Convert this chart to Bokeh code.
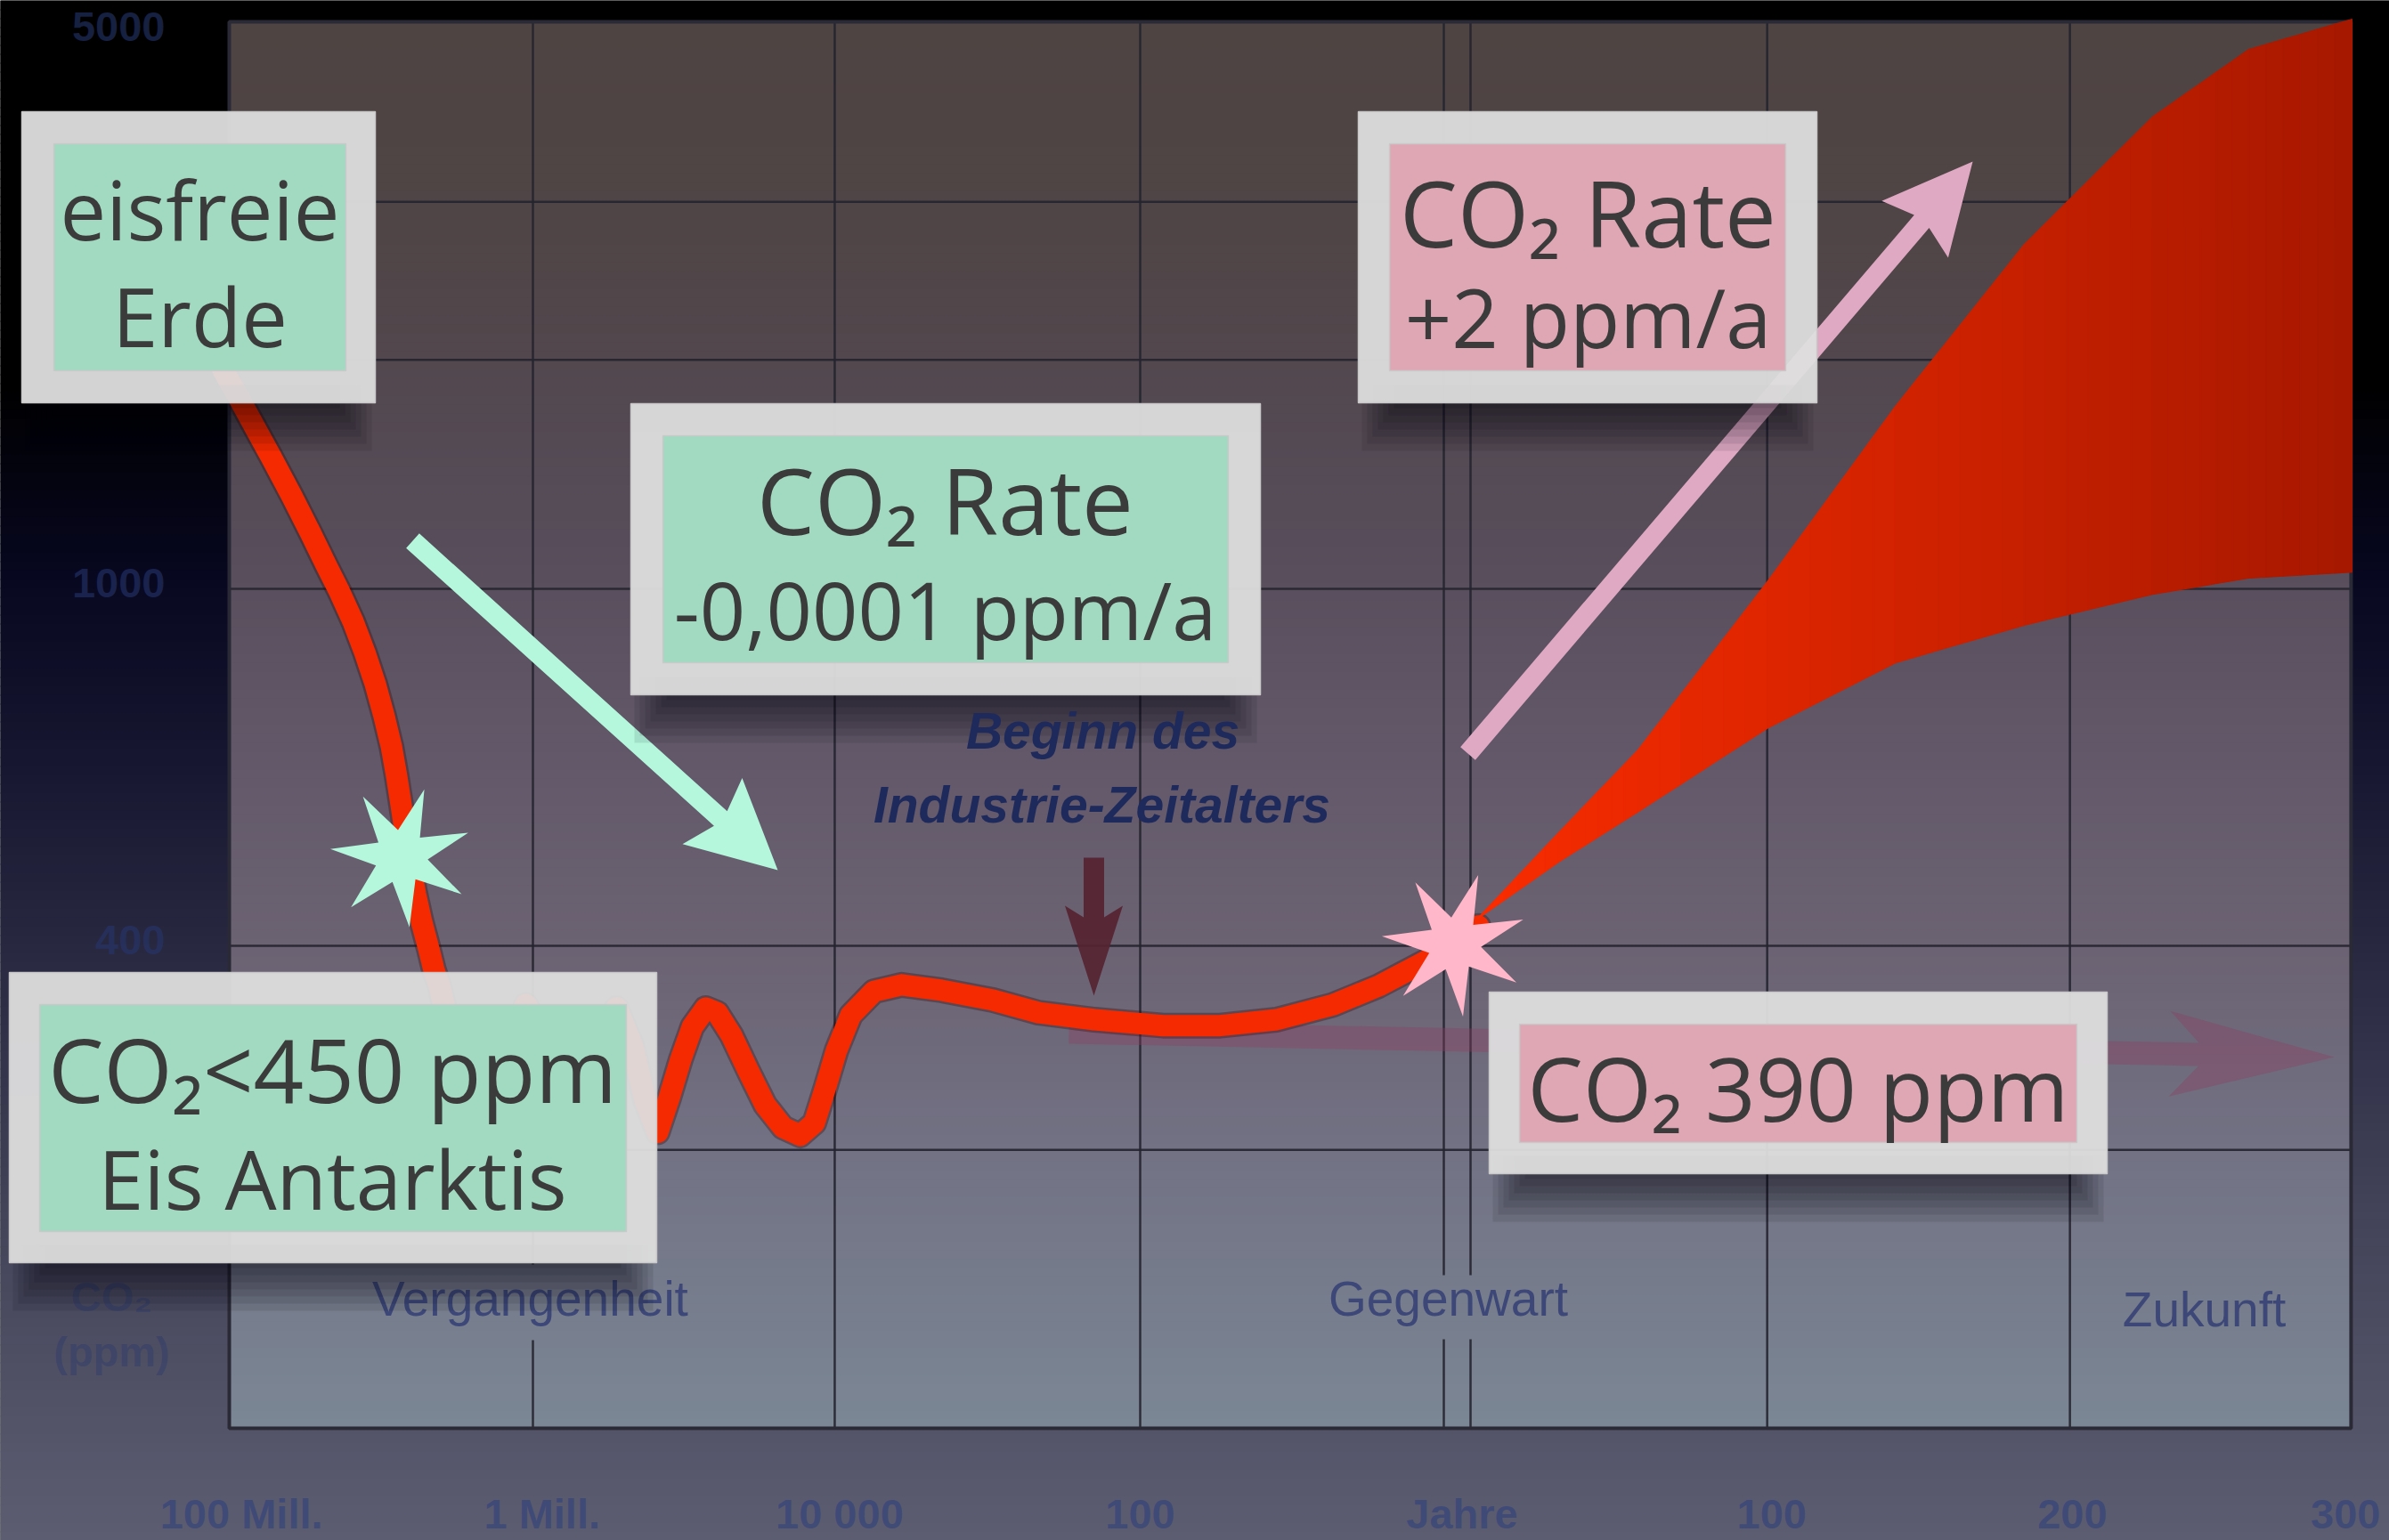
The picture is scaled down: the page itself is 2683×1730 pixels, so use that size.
import numpy as np
from bokeh.plotting import figure
from bokeh.models import Range1d
from bokeh.core.properties import value
from bokeh.embed import file_html
from bokeh.resources import INLINE

# ------------------------------------------------------------------
# Data
# x = position on the time axis in grid steps:
#     0 = 100 Mill. Jahre, 1 = 1 Mill., 2 = 10 000, 3 = 100 Jahre,
#     4 = Gegenwart, 5 / 6 / 7 = +100 / +200 / +300 Jahre
# y = CO2 in ppm (logarithmic axis)
# ------------------------------------------------------------------
x_tick_pos = [0.04, 1.03, 2.01, 3.0, 4.06, 5.08, 6.07, 6.97]
x_tick_labels = ["100 Mill.", "1 Mill.", "10 000", "100", "Jahre", "100", "200", "300"]
x_grid = [0.0, 1.0, 1.994, 3.0, 4.0, 4.088, 5.065, 6.062, 6.988]
y_grid_ppm = [2700, 1800, 1000, 400, 237]
y_label_ppm = [4230, 1014, 406]
y_tick_labels = ["5000", "1000", "400"]
plot_ppm_top, plot_ppm_bottom = 4285, 116

curve_x = [-0.021, 0.032, 0.085, 0.138, 0.205, 0.267, 0.320, 0.364, 0.408, 0.446,
           0.481, 0.510, 0.534, 0.551, 0.566, 0.581, 0.595, 0.613, 0.633, 0.657,
           0.674, 0.692,
           0.736, 0.771, 0.806, 0.853, 0.903, 0.977, 1.041, 1.088, 1.138, 1.188,
           1.229, 1.276, 1.328, 1.370,
           1.411, 1.449, 1.487, 1.525, 1.569, 1.607, 1.654, 1.710, 1.765, 1.824,
           1.880, 1.927, 1.962, 2.000, 2.047, 2.123, 2.214, 2.346, 2.516, 2.666,
           2.850, 3.076, 3.264, 3.449, 3.636, 3.786, 3.918, 4.047, 4.114]
curve_ppm = [1754, 1631, 1512, 1402, 1271, 1155, 1061, 991, 919, 850,
             783, 721, 667, 619, 574, 531, 493, 457, 426, 397,
             376, 361,
             313, 273, 252, 260, 306, 344, 313, 266, 250, 269,
             309, 341, 309, 269,
             248, 271, 299, 325, 341, 337, 318, 290, 266, 251,
             246, 254, 277, 306, 335, 356, 362, 357, 348, 337,
             331, 326, 326, 331, 344, 361, 381, 402, 421]

fan_x = [4.108, 4.378, 4.639, 5.065, 5.487, 5.912, 6.334, 6.651, 6.991]
fan_upper_ppm = [428, 535, 661, 1018, 1597, 2421, 3357, 3992, 4314]
fan_lower_ppm = [428, 496, 564, 699, 827, 911, 986, 1028, 1044]

star_x = [0.566, 4.035]
star_ppm = [503, 402]

# ------------------------------------------------------------------
# layout helpers: picture pixel -> data, data -> picture pixel
# ------------------------------------------------------------------
W, H = 2683, 1730
X0_PX, X_STEP = 257.0, 341.0
Y1000_PX, PX_DEC = 661.0, 1008.0


def X(px):
    return (px - X0_PX) / X_STEP


def Y(py):
    return 1000.0 * 10 ** ((Y1000_PX - py) / PX_DEC)


def PX(u):
    return X0_PX + X_STEP * u


def PY(ppm):
    return Y1000_PX - PX_DEC * np.log10(ppm / 1000.0)


def to_data(pts):
    return [X(a) for a, b in pts], [Y(b) for a, b in pts]


def hex2rgb(h):
    return [int(h[i:i + 2], 16) for i in (1, 3, 5)]


def grad_color(stops, y):
    ys = [s[0] for s in stops]
    cols = np.array([hex2rgb(s[1]) for s in stops], float)
    c = [int(round(np.interp(y, ys, cols[:, k]))) for k in range(3)]
    return "#%02x%02x%02x" % tuple(c)


p = figure(width=W, height=H,
           x_range=Range1d(X(0), X(W)), y_range=Range1d(Y(H), Y(0)),
           y_axis_type="log", x_axis_location=None, y_axis_location=None,
           toolbar_location=None, output_backend="svg",
           background_fill_color="#000000", border_fill_color="#000000",
           outline_line_color=None, min_border=0)
p.min_border_left = p.min_border_right = p.min_border_top = p.min_border_bottom = 0
p.grid.visible = False

# ---------------- background gradients ----------------
outer_stops = [(0, "#000000"), (430, "#000000"), (640, "#07071f"), (850, "#161630"),
               (1030, "#25253e"), (1200, "#34344c"), (1370, "#434359"),
               (1540, "#505065"), (1730, "#5d5d72")]
ys = np.arange(0, H, 10)
p.quad(left=X(-2), right=X(W + 2), top=[Y(v) for v in ys], bottom=[Y(v + 11) for v in ys],
       fill_color=[grad_color(outer_stops, v + 5) for v in ys], line_color=None)

plot_stops = [(24, "#4e4442"), (300, "#504547"), (500, "#544a54"), (661, "#594f5d"),
              (850, "#625869"), (1062, "#6b6272"), (1292, "#727284"),
              (1450, "#767c8b"), (1605, "#7b8795")]
ys = np.arange(24, 1605, 10)
p.quad(left=x_grid[0], right=x_grid[-1], top=[Y(v) for v in ys],
       bottom=[Y(min(v + 11, 1605)) for v in ys],
       fill_color=[grad_color(plot_stops, v + 5) for v in ys], line_color=None)

# ---------------- grid ----------------
gaps = {1: (1420, 1505), 4: (1432, 1504), 5: (1432, 1504)}
gx, gy = [], []
for i, xg in enumerate(x_grid):
    if i in gaps:
        g0, g1 = gaps[i]
        gx += [[xg, xg], [xg, xg]]
        gy += [[plot_ppm_bottom, Y(g1)], [Y(g0), plot_ppm_top]]
    else:
        gx.append([xg, xg])
        gy.append([plot_ppm_bottom, plot_ppm_top])
for v in y_grid_ppm:
    gx.append([x_grid[0], x_grid[-1]])
    gy.append([v, v])
p.multi_line(gx, gy, line_color="#24242f", line_width=2.5, line_alpha=0.9)
p.quad(left=x_grid[0], right=x_grid[-1], top=plot_ppm_top, bottom=plot_ppm_bottom,
       fill_color=None, line_color="#2a2a36", line_width=4)


# ---------------- texts (all positioned by their visual middle) ----------------
def label(xs_px, ys_px, texts, size, font="Liberation Sans", style="normal",
          color="#3b3b3b", alpha=1.0, align="center"):
    p.text(x=[X(v) for v in xs_px], y=[Y(v) for v in ys_px], text=texts,
           text_font=value(font), text_font_style=style, text_font_size=f"{size}px",
           text_align=align, text_baseline="middle", text_color=color, text_alpha=alpha)


axis_col = "#26366c"
p.text(x=[X(185)] * 3, y=y_label_ppm, text=y_tick_labels, text_font=value("Liberation Sans"),
       text_font_style="bold", text_font_size="47px", text_align="right",
       text_baseline="middle", text_color=axis_col, text_alpha=0.6)
label([125, 125], [1456, 1518], ["CO₂", "(ppm)"], 47, style="bold", color=axis_col, alpha=0.4)
p.text(x=x_tick_pos, y=[Y(1700)] * len(x_tick_pos), text=x_tick_labels,
       text_font=value("Liberation Sans"), text_font_style="bold", text_font_size="47px",
       text_align="center", text_baseline="middle", text_color="#3b4878", text_alpha=0.85)

label([595, 1626, 2475], [1458, 1458, 1470], ["Vergangenheit", "Gegenwart", "Zukunft"], 55,
      color="#3d4878")


# ---------------- arrows ----------------
def arrow_shape(x0, y0, x1, y1, shaft_w, head_len, head_w, notch):
    s = np.array([x0, y0], float)
    t = np.array([x1, y1], float)
    e = (t - s) / np.hypot(*(t - s))
    n = np.array([-e[1], e[0]])
    base = t - e * head_len
    nt = t - e * notch
    bp = base + n * head_w / 2
    bm = base - n * head_w / 2
    f = shaft_w / head_w
    jp = nt + f * (bp - nt)
    jm = nt + f * (bm - nt)
    pts = [s + n * shaft_w / 2, jp, bp, t, bm, jm, s - n * shaft_w / 2]
    return to_data([tuple(q) for q in pts])


ax, ay = arrow_shape(1200, 1159, 2621, 1187, 26, 185, 96, 140)
p.patch(ax, ay, fill_color="#8c3c62", fill_alpha=0.36, line_color=None)

ax, ay = arrow_shape(1228, 963, 1228, 1118, 23, 101, 65, 81)
p.patch(ax, ay, fill_color="#562330", fill_alpha=0.92, line_color=None)

# ---------------- CO2 curve ----------------
p.line(curve_x, curve_ppm, line_width=29, line_color="#3a0c08", line_alpha=0.35,
       line_join="round", line_cap="round")
p.line(curve_x, curve_ppm, line_width=24, line_color="#f62a00",
       line_join="round", line_cap="round")

# future fan: same outline, shaded in thin vertical slices (dark towards the right)
fan_c0, fan_c1 = np.array(hex2rgb("#fa2c00"), float), np.array(hex2rgb("#a61800"), float)
fxs, fys, fcols = [], [], []
m = 6
span = fan_x[-1] - fan_x[0]
for i in range(len(fan_x) - 1):
    for j in range(m):
        t0, t1 = j / m, (j + 1) / m
        xa = fan_x[i] + t0 * (fan_x[i + 1] - fan_x[i])
        xb = fan_x[i] + t1 * (fan_x[i + 1] - fan_x[i])
        ua = fan_upper_ppm[i] ** (1 - t0) * fan_upper_ppm[i + 1] ** t0
        ub = fan_upper_ppm[i] ** (1 - t1) * fan_upper_ppm[i + 1] ** t1
        la = fan_lower_ppm[i] ** (1 - t0) * fan_lower_ppm[i + 1] ** t0
        lb = fan_lower_ppm[i] ** (1 - t1) * fan_lower_ppm[i + 1] ** t1
        fxs.append([xa, xb, xb, xa])
        fys.append([ua, ub, lb, la])
        f = ((xa + xb) / 2 - fan_x[0]) / span
        c = fan_c0 + (fan_c1 - fan_c0) * f
        fcols.append("#%02x%02x%02x" % tuple(int(round(v)) for v in c))
p.patches(fxs, fys, fill_color=fcols, line_color=fcols, line_width=1.2)

ax, ay = arrow_shape(463, 607, 873, 977, 22, 99, 100, 83)
p.patch(ax, ay, fill_color="#b4f7dc", line_color=None)
ax, ay = arrow_shape(1648, 846, 2215, 181, 22, 100, 98, 85)
p.patch(ax, ay, fill_color="#dfa9c3", line_color=None)


# ---------------- stars ----------------
def star_shape(cx, cy, R, r, n=7, a0=71.0):
    pts = []
    for k in range(2 * n):
        a = np.radians(a0 - k * 180.0 / n)
        rad = R if k % 2 == 0 else r
        pts.append((cx + rad * np.cos(a), cy - rad * np.sin(a)))
    return to_data(pts)


for sx, sp, col, R in zip(star_x, star_ppm, ["#b4f7dc", "#ffb7c9"], [80, 82]):
    xs_, ys_ = star_shape(PX(sx), PY(sp), R, 30)
    p.patch(xs_, ys_, fill_color=col, line_color=None)


# ---------------- boxes ----------------
def box(outer, inner, color):
    x0, y0, x1, y1 = outer
    for k in range(7):
        p.quad(left=X(x0 + 40 - 6 * k), right=X(x1 - 40 + 6 * k), top=Y(y1 - 20),
               bottom=Y(y1 + 6 + 8 * k), fill_color="#05050c", fill_alpha=0.09, line_color=None)
    p.quad(left=X(x0), right=X(x1), top=Y(y0), bottom=Y(y1), fill_color="#dedede",
           fill_alpha=0.95, line_color="#c8c8c8", line_width=1.5)
    i0, j0, i1, j1 = inner
    p.quad(left=X(i0), right=X(i1), top=Y(j0), bottom=Y(j1), fill_color=color,
           fill_alpha=0.96, line_color="#c9c9c9", line_width=1.5)


def box_text(cx, cy, s, size=92):
    label([cx], [cy], [s], size, font="Open Sans", color="#3b3b3b")


GREEN, PINK = "#9edabf", "#dfa3b1"
box((24, 125, 421, 452), (60, 161, 388, 416), GREEN)
box_text(224, 234, "eisfreie")
box_text(224, 354, "Erde")

box((708, 453, 1415, 780), (744, 489, 1379, 744), GREEN)
box_text(1061, 560, "CO₂ Rate", 103)
box_text(1061, 683, "-0,0001 ppm/a", 90)

box((1525, 125, 2040, 452), (1560, 161, 2005, 416), PINK)
box_text(1783, 237, "CO₂ Rate", 103)
box_text(1783, 355, "+2 ppm/a")

box((10, 1092, 737, 1418), (44, 1128, 703, 1383), GREEN)
box_text(373, 1200, "CO₂<450 ppm", 99)
box_text(373, 1323, "Eis Antarktis")

box((1672, 1114, 2366, 1318), (1706, 1150, 2332, 1283), PINK)
box_text(2019, 1221, "CO₂ 390 ppm", 99)

# ---------------- industrial age label ----------------
label([1238, 1237], [820, 903], ["Beginn des", "Industrie-Zeitalters"], 57,
      style="bold italic", color="#1e2a5c")

open("out.html", "w").write(file_html(p, INLINE, "CO2"))
